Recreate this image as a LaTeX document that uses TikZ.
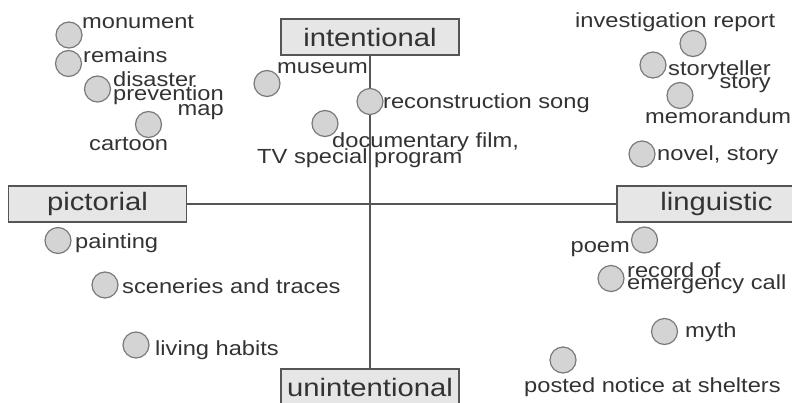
\documentclass[tikz,border=0pt]{standalone}
\usepackage{fontspec}
\setmainfont{Liberation Sans}[FakeStretch=1.16]
\definecolor{dotfill}{HTML}{D4D4D4}
\definecolor{dotline}{HTML}{7A7A7A}
\definecolor{boxfill}{HTML}{E6E6E6}
\definecolor{boxline}{HTML}{555555}
\definecolor{txt}{HTML}{333333}
\newcommand\stacklines[2]{\vtop{\baselineskip=#1\lineskiplimit=-100pt\lineskip=0pt\halign{##\hfil\cr#2\crcr}}}
\tikzset{
  dot/.style={circle, draw=dotline, fill=dotfill, line width=1.2pt, minimum size=26pt, inner sep=0pt},
  lab/.style={anchor=base west, inner sep=0pt, text=txt, font=\fontsize{20.4}{22}\selectfont},
  axbox/.style={draw=boxline, fill=boxfill, line width=1.2pt, minimum width=178pt, minimum height=36pt, inner sep=0pt, text=txt, font=\fontsize{25.2}{27}\selectfont},
  axis/.style={draw=boxline, line width=1.2pt}
}
\begin{document}
\begin{tikzpicture}[x=1pt,y=-1pt]
\clip (0,0) rectangle (792,402);
\fill[white] (0,0) rectangle (792,402);
% axis boxes
\node[axbox] (int) at (370,37) {intentional};
\node[axbox] (unint) at (370,387) {unintentional};
\node[axbox] (pic) at (97.5,204) {pictorial};
\node[axbox, minimum width=199pt] (ling) at (716.5,204) {linguistic};
\draw[axis] (int.south) -- (unint.north);
\draw[axis] (pic.east) -- (ling.west);
% top-left
\node[dot] (mon) at (69,35) {};
\node[lab] (monl) at (82,28) {monument};
\node[dot] (rem) at (68.5,63.5) {};
\node[lab] (reml) at (83,62) {remains};
\node[dot] (dpm) at (97.5,89) {};
\node[lab] (dpml) at (113,86) {\stacklines{14.5pt}{disaster\cr prevention\cr\hfill map}};
\node[dot] (car) at (148.5,124.5) {};
\node[lab] (carl) at (89,150) {cartoon};
% top-center
\node[dot] (mus) at (267,83.5) {};
\node[lab] (musl) at (277,73) {museum};
\node[dot] (rec) at (370,101.5) {};
\node[lab] (recl) at (383,108) {reconstruction song};
\node[dot] (doc) at (325,123.5) {};
\node[lab] (docl) at (257,147) {\stacklines{16pt}{\hspace*{75pt}documentary film,\cr TV special program}};
% top-right
\node[dot] (inv) at (693,43.5) {};
\node[lab] (invl) at (575,27) {investigation report};
\node[dot] (sto) at (653,65) {};
\node[lab] (stol) at (668,75) {\stacklines{13pt}{storyteller\cr\hfill story}};
\node[dot] (mem) at (680,95.5) {};
\node[lab] (meml) at (645,123) {memorandum};
\node[dot] (nov) at (642,154) {};
\node[lab] (novl) at (657,160) {novel, story};
% bottom-left
\node[dot] (pai) at (58,240.5) {};
\node[lab] (pail) at (75,248) {painting};
\node[dot] (sce) at (105,285) {};
\node[lab] (scel) at (122,293) {sceneries and traces};
\node[dot] (liv) at (136,345) {};
\node[lab] (livl) at (155,355) {living habits};
% bottom-right
\node[dot] (poe) at (644.5,240) {};
\node[lab, anchor=base east] (poel) at (630,252) {poem};
\node[dot] (rce) at (611,278.5) {};
\node[lab] (rcel) at (627,277) {\stacklines{12pt}{record of\cr emergency call}};
\node[dot] (myt) at (664.5,331.5) {};
\node[lab] (mytl) at (685,337) {myth};
\node[dot] (pos) at (563,360) {};
\node[lab] (posl) at (524,392) {posted notice at shelters};
\end{tikzpicture}
\end{document}
